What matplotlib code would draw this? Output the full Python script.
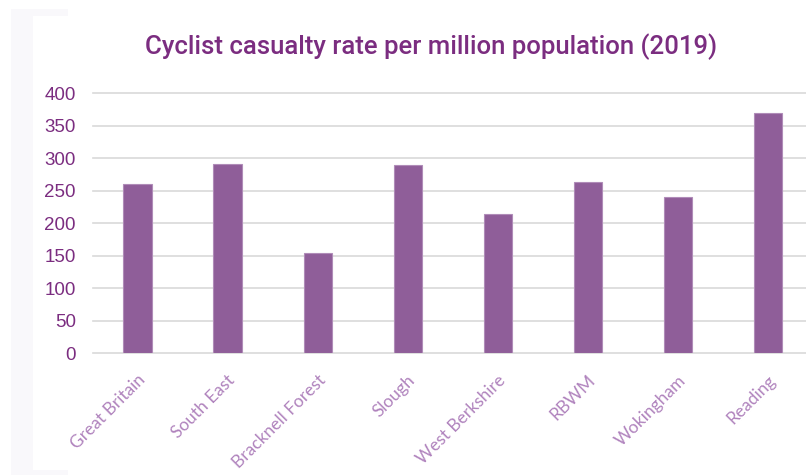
import matplotlib
matplotlib.use("Agg")
import matplotlib.pyplot as plt
from matplotlib.patches import Rectangle
from matplotlib.transforms import ScaledTranslation

areas = ["Great Britain", "South East", "Bracknell Forest", "Slough",
         "West Berkshire", "RBWM", "Wokingham", "Reading"]
casualty_rate = [260, 291, 155, 289, 215, 264, 240, 370]
y_ticks = [0, 50, 100, 150, 200, 250, 300, 350, 400]

W, H = 806, 475
fig = plt.figure(figsize=(W / 100, H / 100), dpi=100)
fig.patch.set_facecolor("white")

# pale frame at the left edge of the canvas
fig.patches.append(Rectangle((11 / W, 0), 57 / W, 1 - 9 / H, transform=fig.transFigure,
                             facecolor="#f9f8fb", edgecolor="none", zorder=-2))
fig.patches.append(Rectangle((33 / W, 5 / H), 1, 1 - 21 / H, transform=fig.transFigure,
                             facecolor="white", edgecolor="none", zorder=-1))

left = 92.5 / W
bottom = (H - 353.3) / H
ax = fig.add_axes([left, bottom, 720.8 / W, 260 / H])
ax.set_facecolor("none")
ax.set_zorder(2)

x = range(len(areas))
ax.bar(x, casualty_rate, width=0.316, color="#8f5e99", edgecolor="#b08cb8",
       linewidth=0.8, zorder=3)

ax.set_xlim(-0.5, len(areas) - 0.5)
ax.set_ylim(0, 400)
ax.set_yticks(y_ticks)
ax.set_yticklabels([str(v) for v in y_ticks], fontsize=13.5, color="#7b2d80",
                   family=["Liberation Sans", "DejaVu Sans"])
ax.yaxis.grid(True, color="#d9d9d9", linewidth=1.2, zorder=0)
for gl in ax.get_ygridlines():
    gl.set_clip_on(False)
ax.tick_params(axis="y", length=0, pad=12)
ax.tick_params(axis="x", length=0, pad=6)
for s in ax.spines.values():
    s.set_visible(False)

ax.set_xticks(list(x))
ax.set_xticklabels(areas, rotation=45, ha="right", va="center",
                   rotation_mode="anchor", fontsize=12.5, color="#b083bd",
                   family=["Lato", "DejaVu Sans"])
for lbl in ax.get_xticklabels():
    lbl.set_transform(lbl.get_transform() +
                      ScaledTranslation(5 / 100, -16 / 100, fig.dpi_scale_trans))

fig.text(431.5 / W, 1 - 47 / H, "Cyclist casualty rate per million population (2019)",
         ha="center", va="center", fontsize=18.5, color="#7b2d80", fontweight="medium",
         family=["Roboto", "DejaVu Sans"], zorder=3)

fig.savefig("out.png", dpi=100)
